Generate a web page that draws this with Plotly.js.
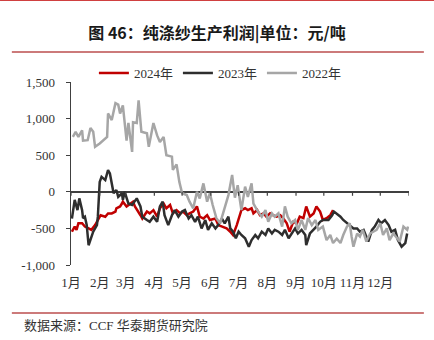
<!DOCTYPE html>
<html>
<head>
<meta charset="utf-8">
<script src="https://cdn.plot.ly/plotly-3.0.1.min.js"></script>
<style>html,body{margin:0;padding:0;background:#fff;}#chart{width:434px;height:340px;}</style>
</head>
<body>
<div id="chart"></div>
<script>
// Day of year (0 = 1 Jan) and profit (元/吨)
const days2024 = [1,4,6,8,12,15,19,22,26,29,32,37,40,44,48,49,53,55,56,60,64,67,69,72,75,77,82,85,89,93,96,100,103,107,110,114,118,121,125,128,132,136,139,143,147,150,156,159,163,168,172,175,179,181,184,188,191,195,197,201,204,208,211,215,218,222,226,229,233,236,240,244,247,251,254,258,262,265,269,272,276,280,283];
const vals2024 = [-545,-475,-520,-430,-430,-475,-500,-520,-455,-385,-320,-340,-295,-295,-270,-225,-200,-160,-135,-200,-160,-135,-200,-270,-320,-365,-270,-295,-250,-340,-225,-160,-225,-180,-295,-250,-295,-270,-320,-295,-270,-200,-340,-365,-320,-385,-365,-455,-475,-500,-545,-590,-455,-365,-250,-225,-250,-225,-295,-250,-320,-295,-340,-295,-320,-340,-320,-360,-430,-545,-410,-430,-340,-360,-200,-340,-295,-200,-270,-385,-360,-320,-250];

const days2023 = [1,4,7,9,12,13,15,17,19,22,24,28,29,31,33,37,40,42,44,46,49,51,55,56,58,62,66,71,75,77,82,85,89,93,96,99,101,105,109,112,116,120,123,127,130,134,137,141,145,148,152,156,159,163,166,170,172,175,178,181,184,188,192,195,199,202,206,210,213,217,220,224,228,231,235,238,242,245,249,253,254,258,262,265,269,272,278,282,284,287,291,294,298,301,305,309,312,316,319,321,325,328,332,335,339,343,346,350,353,357,361,363];
const vals2023 = [-365,-110,-250,-90,-250,-360,-340,-455,-730,-615,-545,-455,-340,135,205,160,295,250,90,-20,25,-70,-20,-110,0,-160,-180,-90,-200,-340,-385,-410,-340,-410,-200,-135,-320,-455,-320,-250,-340,-270,-250,-365,-320,-410,-340,-500,-385,-520,-430,-500,-455,-365,-430,-340,-500,-545,-635,-545,-590,-635,-750,-660,-590,-635,-545,-590,-500,-570,-520,-545,-590,-520,-635,-570,-500,-570,-520,-590,-730,-570,-520,-475,-410,-385,-385,-320,-270,-295,-340,-385,-430,-455,-500,-500,-545,-520,-610,-680,-520,-475,-385,-430,-385,-455,-545,-520,-660,-750,-700,-570];

const days2022 = [2,5,8,12,13,18,21,24,26,31,39,40,44,48,51,53,56,60,62,66,67,71,73,76,82,84,89,93,96,100,103,109,110,114,117,120,125,128,132,136,139,143,147,150,153,157,161,166,170,174,177,180,184,188,191,195,197,201,206,210,213,217,220,224,228,231,234,238,242,245,249,253,256,260,264,267,272,276,280,283,287,291,294,298,301,303,305,309,312,315,319,323,326,330,334,337,341,344,348,352,355,359,363,364];
const vals2022 = [750,820,750,840,700,705,870,820,615,660,750,1070,980,1210,1190,1070,1180,700,940,545,950,940,1250,820,800,615,940,770,680,750,500,480,300,375,135,-20,-45,-135,-225,0,-90,115,-135,-20,-180,-360,-430,-225,-45,230,-80,90,-250,70,-70,115,-160,-250,-340,-250,-410,-295,-340,-295,-475,-200,-340,-430,-385,-520,-385,-520,-360,-455,-385,-520,-475,-660,-590,-700,-640,-700,-590,-475,-430,-610,-750,-570,-610,-520,-680,-570,-545,-520,-430,-590,-500,-660,-570,-640,-680,-475,-520,-475];

const monthTickDays = [0,31,59,90,120,151,181,212,243,273,304,334];
const monthLabels = ['1月','2月','3月','4月','5月','6月','7月','8月','9月','10月','11月','12月'];
const minorTickDays = [0,31,59,90,120,151,181,212,243,273,304,334,365];
const yTickVals = [-1000,-500,0,500,1000,1500];
const yTickText = ['-1,000','-500','0','500','1,000','1,500'];

const serif = "'Liberation Serif', 'Times New Roman', 'Noto Sans CJK SC', serif";
const cjk = "'Noto Sans CJK SC', sans-serif";

const traces = [
  {x: days2024, y: vals2024, name: '2024年', type: 'scatter', mode: 'lines', line: {color: '#c00000', width: 2.5}},
  {x: days2023, y: vals2023, name: '2023年', type: 'scatter', mode: 'lines', line: {color: '#2e2e2e', width: 2.5}},
  {x: days2022, y: vals2022, name: '2022年', type: 'scatter', mode: 'lines', line: {color: '#a6a6a6', width: 2.5}}
];

const shapes = minorTickDays.map(d => ({
  type: 'line', xref: 'x', yref: 'y', ysizemode: 'pixel', yanchor: 0,
  x0: d, x1: d, y0: 0, y1: -4, line: {color: '#404040', width: 1.2}
}));
// decorative frame lines
shapes.push({type:'line', xref:'paper', yref:'paper', x0:-0.21, x1:1.08, y0:1.447, y1:1.447, line:{color:'#d04040', width:1.5}});
shapes.push({type:'line', xref:'paper', yref:'paper', x0:-0.175, x1:1.044, y0:1.164, y1:1.164, line:{color:'#cc7a7a', width:2}});
shapes.push({type:'line', xref:'paper', yref:'paper', x0:-0.175, x1:1.044, y0:-0.262, y1:-0.262, line:{color:'#cc7a7a', width:2}});

const layout = {
  width: 434, height: 340,
  margin: {l: 71, r: 25, t: 82, b: 75},
  paper_bgcolor: '#fff', plot_bgcolor: '#fff',
  title: {text: '<b>图 46：纯涤纱生产利润|单位：元/吨</b>', font: {family: cjk, size: 16, color: '#1a1a1a'},
          x: 0.5, xref: 'container', xanchor: 'center', y: 1 - 33/340, yref: 'container', yanchor: 'middle'},
  showlegend: true,
  legend: {orientation: 'h', x: 0.442, xanchor: 'center', y: 1.049, yanchor: 'middle',
           font: {family: serif, size: 13, color: '#333'}, bgcolor: 'rgba(0,0,0,0)', itemwidth: 30, tracegroupgap: 0},
  xaxis: {range: [0, 365], tickvals: monthTickDays, ticktext: monthLabels, showgrid: false, zeroline: false,
          showline: false, ticks: 'outside', ticklen: 5, tickcolor: 'rgba(0,0,0,0)',
          tickfont: {family: serif, size: 13, color: '#333'}, fixedrange: true},
  yaxis: {range: [-1000, 1500], tickvals: yTickVals, ticktext: yTickText, showgrid: false,
          zeroline: true, zerolinecolor: '#404040', zerolinewidth: 1.5,
          showline: true, linecolor: '#404040', linewidth: 1.5, ticks: 'outside', ticklen: 4, tickcolor: '#404040',
          ticklabelstandoff: 8, tickfont: {family: serif, size: 13, color: '#333'}, fixedrange: true},
  shapes: shapes,
  annotations: [{text: '数据来源：CCF 华泰期货研究院', xref: 'paper', yref: 'paper', x: -0.145, y: -0.333,
                 xanchor: 'left', yanchor: 'middle', showarrow: false,
                 font: {family: serif, size: 13, color: '#333'}}]
};

Plotly.newPlot('chart', traces, layout, {displayModeBar: false, staticPlot: true});
</script>
</body>
</html>
